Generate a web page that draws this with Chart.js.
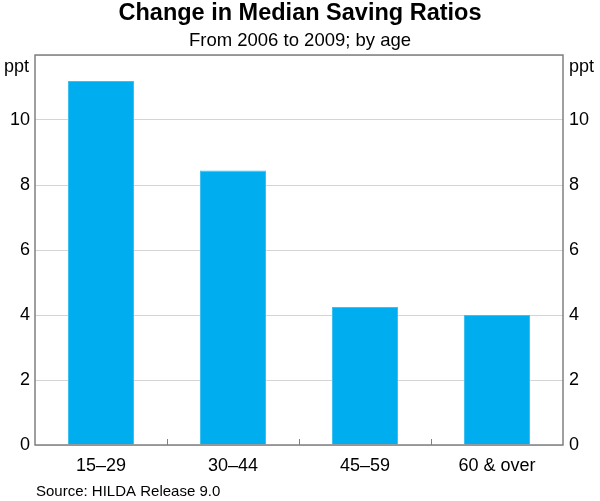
<!DOCTYPE html>
<html>
<head>
<meta charset="utf-8">
<script src="https://cdn.jsdelivr.net/npm/chart.js@4"></script>
<style>
  html, body { margin: 0; padding: 0; background: #fff; }
  #wrap { width: 600px; height: 501px; }
</style>
</head>
<body>
<div id="wrap"><canvas id="chart" width="600" height="501"></canvas></div>
<script>
const categories = ["15\u201329", "30\u201344", "45\u201359", "60 & over"];
const savingChange = [11.2, 8.45, 4.25, 4.0];
const yTicks = [0, 2, 4, 6, 8, 10, 12];

const FONT = "'Liberation Sans', Arial, sans-serif";

const decorations = {
  id: "decorations",
  afterDraw(chart) {
    const ctx = chart.ctx;
    const area = chart.chartArea;
    const x = chart.scales.x;
    ctx.save();
    // title + subtitle
    ctx.fillStyle = "#000";
    ctx.textAlign = "center";
    ctx.textBaseline = "middle";
    ctx.font = "bold 23.5px " + FONT;
    ctx.fillText("Change in Median Saving Ratios", 300, 14);
    ctx.font = "18.5px " + FONT;
    ctx.fillText("From 2006 to 2009; by age", 300, 41);
    // units
    ctx.font = "18px " + FONT;
    ctx.textAlign = "right";
    ctx.fillText("ppt", area.left - 6, 67);
    ctx.textAlign = "left";
    ctx.fillText("ppt", area.right + 6, 67);
    // source
    ctx.font = "15px " + FONT;
    ctx.fillText("Source: HILDA Release 9.0", 36, 492);
    // inward ticks between categories
    ctx.strokeStyle = "#808080";
    ctx.lineWidth = 1;
    for (let i = 1; i < categories.length; i++) {
      const px = Math.round((x.getPixelForValue(i - 1) + x.getPixelForValue(i)) / 2) + 0.5;
      ctx.beginPath();
      ctx.moveTo(px, area.bottom);
      ctx.lineTo(px, area.bottom - 6);
      ctx.stroke();
    }
    // frame
    ctx.strokeStyle = "#808080";
    ctx.lineWidth = 1.5;
    ctx.strokeRect(area.left, area.top, area.right - area.left, area.bottom - area.top);
    ctx.restore();
  }
};

new Chart(document.getElementById("chart"), {
  type: "bar",
  data: {
    labels: categories,
    datasets: [{
      data: savingChange,
      backgroundColor: "#00aeef",
      borderColor: "#3cc0f2",
      borderWidth: 1,
      barPercentage: 0.5,
      categoryPercentage: 1
    }]
  },
  options: {
    responsive: false,
    animation: false,
    layout: { padding: { top: 55, left: 0, right: 0, bottom: 0 } },
    plugins: { legend: { display: false }, tooltip: { enabled: false }, title: { display: false } },
    scales: {
      x: {
        grid: { display: false },
        border: { display: false },
        ticks: { color: "#000", font: { family: FONT, size: 18 }, padding: 2 },
        afterFit(s) { s.height = 56; }
      },
      y: {
        position: "left",
        min: 0, max: 12,
        afterBuildTicks(s) { s.ticks = yTicks.map(v => ({ value: v })); },
        ticks: {
          color: "#000", font: { family: FONT, size: 18 }, padding: 5,
          callback: v => (v === 12 ? "" : v)
        },
        grid: { color: "#d4d4d4", lineWidth: 1, drawTicks: false },
        border: { display: false },
        afterFit(s) { s.width = 35; }
      },
      y2: {
        position: "right",
        min: 0, max: 12,
        afterBuildTicks(s) { s.ticks = yTicks.map(v => ({ value: v })); },
        ticks: {
          color: "#000", font: { family: FONT, size: 18 }, padding: 6,
          callback: v => (v === 12 ? "" : v)
        },
        grid: { display: false, drawTicks: false },
        border: { display: false },
        afterFit(s) { s.width = 37; }
      }
    }
  },
  plugins: [decorations]
});
</script>
</body>
</html>
